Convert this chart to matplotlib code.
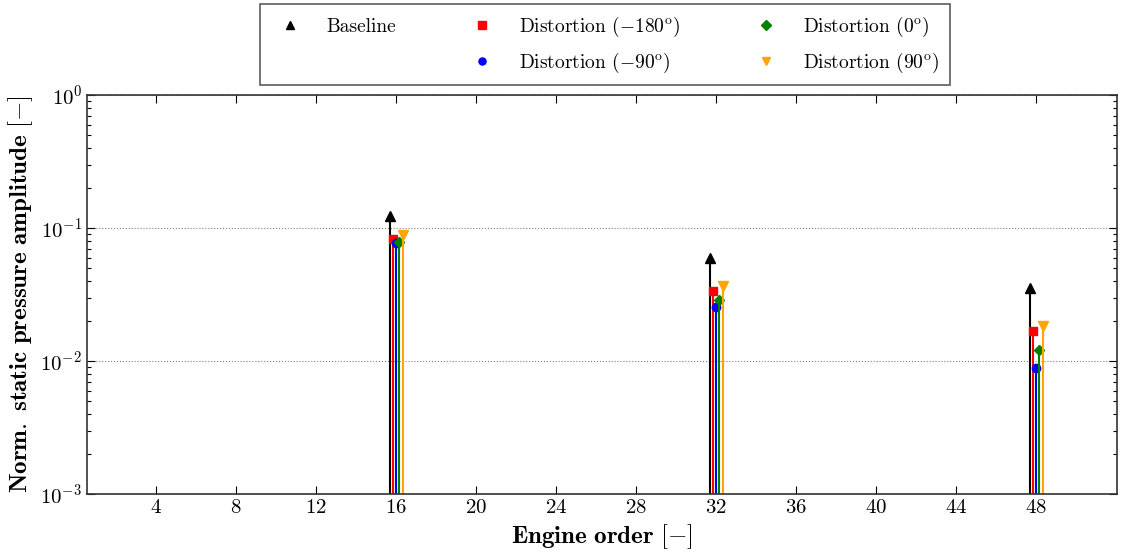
import numpy as np
import matplotlib.pyplot as plt

plt.rcParams['font.family'] = 'serif'
plt.rcParams['font.serif'] = ['cmr10']
plt.rcParams['mathtext.fontset'] = 'cm'
plt.rcParams['axes.formatter.use_mathtext'] = True
plt.rcParams['axes.unicode_minus'] = True

# engine orders and amplitudes per case
orders = np.array([16, 32, 48])
baseline = [0.124, 0.0594, 0.0354]
dist_m180 = [0.083, 0.0336, 0.0168]
dist_m90 = [0.077, 0.0255, 0.00886]
dist_0 = [0.078, 0.0288, 0.0121]
dist_90 = [0.089, 0.0366, 0.0183]

series = [
    (baseline, -0.3, 'black', '^', 7, 'Baseline'),
    (dist_m180, -0.15, 'red', 's', 6, r'Distortion ($-180^{\mathrm{o}}$)'),
    (dist_m90, 0.0, 'blue', 'o', 6, r'Distortion ($-90^{\mathrm{o}}$)'),
    (dist_0, 0.15, 'green', 'D', 5.5, r'Distortion ($0^{\mathrm{o}}$)'),
    (dist_90, 0.35, 'orange', 'v', 7, r'Distortion ($90^{\mathrm{o}}$)'),
]

fig = plt.figure(figsize=(11.24, 5.58), dpi=100)
ax = fig.add_axes([0.0774, 0.1147, 0.9164, 0.715])

handles = {}
for vals, dx, col, mk, ms, lab in series:
    x = orders + dx
    ax.vlines(x, 1e-3, vals, color=col, lw=1.5)
    h, = ax.plot(x, vals, ls='none', marker=mk, color=col, mec=col,
                 ms=ms, label=lab)
    handles[lab] = h

ax.set_yscale('log')
ax.set_ylim(1e-3, 1)
ax.set_xlim(0.55, 52.05)
ax.set_xticks(np.arange(4, 49, 4))
ax.yaxis.grid(True, which='major', ls=':', color='gray', lw=0.8)
ax.tick_params(which='both', direction='in', top=True, right=True, labelsize=15)
ax.tick_params(which='major', length=6, width=0.8)
ax.tick_params(which='minor', length=3, width=0.8)
for s in ax.spines.values():
    s.set_color('#333333')
    s.set_linewidth(1.2)

ax.set_xlabel(r'$\mathbf{Engine\ order}\ [-]$', fontsize=18, labelpad=4)
ax.set_ylabel(r'$\mathbf{Norm.\ static\ pressure\ amplitude}\ [-]$', fontsize=18, labelpad=4)

blank, = ax.plot([], [], ls='none', marker='none')
labs = [s[5] for s in series]
hl = [handles[labs[0]], blank, handles[labs[1]], handles[labs[2]],
      handles[labs[3]], handles[labs[4]]]
ll = [labs[0], '', labs[1], labs[2], labs[3], labs[4]]
leg = fig.legend(hl, ll, ncol=3, loc='upper center', bbox_to_anchor=(0.538, 1.0),
                 fontsize=14, frameon=True, fancybox=False, markerscale=0.85,
                 columnspacing=3.4, handletextpad=0.9, borderpad=0.55,
                 labelspacing=0.6, borderaxespad=0.2)
leg.get_frame().set_edgecolor('#333333')
leg.get_frame().set_linewidth(1.2)

fig.savefig('out.png', dpi=100)
